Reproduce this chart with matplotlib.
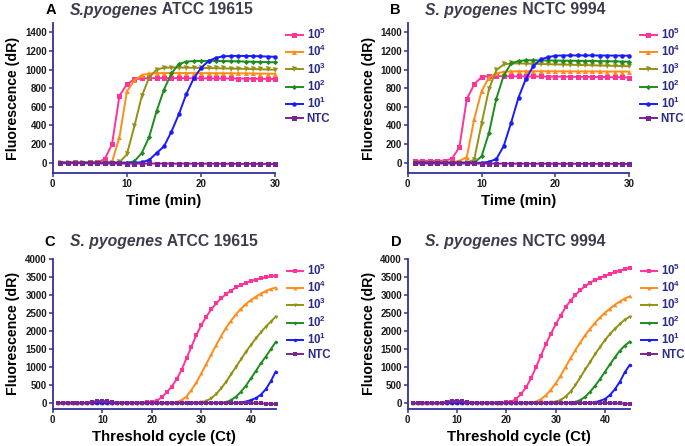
import matplotlib
matplotlib.use("Agg")
import matplotlib.pyplot as plt
import numpy as np

plt.rcParams['font.family'] = ['Liberation Sans', 'DejaVu Sans']
plt.rcParams['font.weight'] = 'bold'
plt.rcParams['mathtext.fontset'] = 'custom'
plt.rcParams['mathtext.rm'] = 'Liberation Sans:bold'
plt.rcParams['mathtext.bf'] = 'Liberation Sans:bold'
plt.rcParams['mathtext.it'] = 'Liberation Sans:bold:italic'

# ---------------- data ----------------
series_labels = [r'$\mathbf{10^5}$', r'$\mathbf{10^4}$', r'$\mathbf{10^3}$',
                 r'$\mathbf{10^2}$', r'$\mathbf{10^1}$', 'NTC']

time_min = np.arange(1, 31)
cycles = np.arange(1, 46)

# Panel A: S. pyogenes ATCC 19615, isothermal (time)
a_1e5 = [0, 2, 3, 2, 3, 5, 38, 200, 720, 842, 895, 905, 908, 908, 908, 908, 908, 907, 907, 906,
         906, 905, 905, 905, 904, 903, 902, 901, 900, 898]
a_1e4 = [0, 0, 0, 0, 0, 0, 0, 10, 275, 765, 885, 940, 958, 962, 963, 963, 963, 963, 962, 962,
         962, 961, 961, 961, 960, 959, 958, 957, 956, 955]
a_1e3 = [0, 0, 0, 0, 0, 0, 0, 0, 5, 90, 390, 714, 915, 1000, 1020, 1022, 1022, 1021, 1020, 1018,
         1016, 1015, 1013, 1011, 1009, 1007, 1005, 1003, 1001, 999]
a_1e2 = [0, 0, 0, 0, 0, 0, 0, 0, 0, 0, 15, 104, 276, 553, 786, 958, 1060, 1085, 1092, 1093,
         1093, 1092, 1091, 1090, 1088, 1086, 1084, 1082, 1080, 1078]
a_1e1 = [0, 0, 0, 0, 0, 0, 0, 0, 0, 0, 0, 5, 30, 104, 176, 334, 520, 736, 905, 1019,
         1091, 1127, 1142, 1146, 1147, 1146, 1145, 1143, 1140, 1137]
a_ntc = [-5, -6, -5, -6, -7, -7, -8, -8, -8, -9, -9, -9, -8, -9, -9, -10, -10, -9, -10, -10,
         -10, -11, -11, -11, -12, -12, -12, -12, -13, -13]

# Panel B: S. pyogenes NCTC 9994, isothermal (time)
b_1e5 = [20, 20, 20, 20, 22, 43, 169, 684, 840, 922, 930, 930, 928, 928, 927, 927, 926, 926, 925, 924,
         924, 923, 922, 922, 921, 920, 919, 918, 917, 915]
b_1e4 = [0, 0, 0, 0, 0, 5, 20, 61, 467, 768, 915, 958, 976, 980, 982, 982, 982, 982, 982, 981,
         981, 981, 980, 980, 980, 980, 979, 979, 979, 978]
b_1e3 = [0, 0, 0, 0, 0, 0, 0, 2, 32, 420, 790, 995, 1055, 1066, 1066, 1064, 1062, 1060, 1058, 1056,
         1054, 1052, 1050, 1048, 1046, 1044, 1042, 1040, 1038, 1036]
b_1e2 = [0, 0, 0, 0, 0, 0, 0, 0, 0, 68, 320, 689, 937, 1066, 1091, 1100, 1100, 1099, 1098, 1097,
         1096, 1095, 1094, 1093, 1092, 1090, 1089, 1088, 1086, 1085]
b_1e1 = [0, 0, 0, 0, 0, 0, 0, 0, 0, 0, 10, 40, 180, 430, 700, 900, 1037, 1109, 1134, 1149,
         1151, 1152, 1152, 1152, 1152, 1151, 1151, 1150, 1150, 1149]
b_ntc = [-8, -8, -8, -8, -8, -8, -8, -8, -8, -9, -9, -9, -9, -9, -10, -10, -10, -10, -10, -11,
         -11, -11, -11, -12, -12, -12, -12, -12, -13, -13]

# Panel C: S. pyogenes ATCC 19615, qPCR (cycles)
c_1e5 = [10, 10, 10, 10, 10, 10, 10, 10, 10, 10, 10, 10, 10, 10, 10, 10, 10, 12, 15, 25,
         60, 160, 296, 454, 657, 917, 1240, 1565, 1890, 2167, 2400, 2600, 2770, 2907, 3028, 3120, 3213, 3278, 3343, 3389,
         3426, 3460, 3490, 3515, 3540]
c_1e4 = [0, 0, 0, 0, 0, 0, 0, 0, 0, 0, 0, 0, 0, 0, 0, 0, 0, 0, 0, 0,
         0, 0, 2, 5, 20, 80, 176, 361, 574, 824, 1083, 1352, 1611, 1861, 2093, 2287, 2463, 2620, 2750, 2861,
         2954, 3037, 3111, 3167, 3204]
c_1e3 = [0, 0, 0, 0, 0, 0, 0, 0, 0, 0, 0, 0, 0, 0, 0, 0, 0, 0, 0, 0,
         0, 0, 0, 0, 0, 0, 0, 2, 8, 20, 55, 130, 250, 407, 593, 796, 1009, 1213, 1426, 1611,
         1796, 1963, 2120, 2259, 2398]
c_1e2 = [0, 0, 0, 0, 0, 0, 0, 0, 0, 0, 0, 0, 0, 0, 0, 0, 0, 0, 0, 0,
         0, 0, 0, 0, 0, 0, 0, 0, 0, 0, 0, 0, 2, 8, 20, 83, 176, 315, 481, 685,
         889, 1102, 1287, 1491, 1694]
c_1e1 = [-10, -10, -10, -10, -10, -10, -10, -10, -10, -10, -10, -10, -10, -10, -10, -10, -10, -10, -10, -10,
         -10, -10, -10, -10, -10, -10, -10, -10, -10, -10, -8, -6, -4, -2, 0, 2, 5, 10, 40, 80,
         135, 230, 380, 600, 870]
c_ntc = [-10, -10, -10, -10, -10, -8, 0, 30, 50, 55, 45, 20, 8, 5, 5, 5, 5, 5, 5, 5,
         5, 5, 5, 5, 5, 5, 5, 5, 5, 5, 0, 0, 0, 0, 0, 0, 0, 0, 0, -5,
         -10, -15, -20, -25, -30]

# Panel D: S. pyogenes NCTC 9994, qPCR (cycles)
d_1e5 = [5, 5, 5, 5, 5, 5, 5, 5, 5, 5, 5, 5, 5, 5, 5, 5, 5, 5, 8, 15,
         37, 111, 250, 435, 685, 990, 1315, 1630, 1917, 2185, 2426, 2657, 2843, 3000, 3139, 3250, 3343, 3417, 3481, 3537,
         3583, 3630, 3676, 3713, 3759]
d_1e4 = [0, 0, 0, 0, 0, 0, 0, 0, 0, 0, 0, 0, 0, 0, 0, 0, 0, 0, 0, 0,
         0, 0, 2, 5, 15, 37, 102, 213, 361, 546, 759, 1000, 1241, 1472, 1685, 1889, 2065, 2231, 2380, 2509,
         2620, 2730, 2820, 2900, 2960]
d_1e3 = [0, 0, 0, 0, 0, 0, 0, 0, 0, 0, 0, 0, 0, 0, 0, 0, 0, 0, 0, 0,
         0, 0, 0, 0, 0, 0, 2, 5, 15, 37, 83, 176, 315, 500, 713, 935, 1148, 1361, 1556, 1750,
         1917, 2065, 2194, 2315, 2398]
d_1e2 = [0, 0, 0, 0, 0, 0, 0, 0, 0, 0, 0, 0, 0, 0, 0, 0, 0, 0, 0, 0,
         0, 0, 0, 0, 0, 0, 0, 0, 0, 0, 0, 2, 10, 30, 80, 176, 315, 481, 667, 870,
         1074, 1268, 1454, 1593, 1704]
d_1e1 = [-10, -10, -10, -10, -10, -10, -10, -10, -10, -10, -10, -10, -10, -10, -10, -10, -10, -10, -10, -10,
         -10, -10, -10, -10, -10, -10, -10, -10, -10, -10, -8, -6, -4, -2, 0, 2, 5, 20, 60, 110,
         222, 380, 590, 850, 1055]
d_ntc = [-10, -10, -10, -10, -10, -8, 0, 35, 55, 60, 45, 20, 8, 5, 5, 5, 5, 5, 5, 5,
         5, 5, 5, 5, 5, 5, 5, 5, 5, 5, 0, 0, 0, 0, 0, 0, 0, 0, 0, -5,
         -8, -10, -14, -18, -20]

panels = [
    dict(letter='A', it='S.pyogenes', rest=' ATCC 19615', x=time_min,
         ys=[a_1e5, a_1e4, a_1e3, a_1e2, a_1e1, a_ntc], xlabel='Time (min)',
         xlim=(0, 30), xticks=[0, 10, 20, 30], ylim=(-110, 1500), yticks=range(0, 1401, 200)),
    dict(letter='B', it='S. pyogenes', rest=' NCTC 9994', x=time_min,
         ys=[b_1e5, b_1e4, b_1e3, b_1e2, b_1e1, b_ntc], xlabel='Time (min)',
         xlim=(0, 30), xticks=[0, 10, 20, 30], ylim=(-110, 1500), yticks=range(0, 1401, 200)),
    dict(letter='C', it='S. pyogenes', rest=' ATCC 19615', x=cycles,
         ys=[c_1e5, c_1e4, c_1e3, c_1e2, c_1e1, c_ntc], xlabel='Threshold cycle (Ct)',
         xlim=(0, 45), xticks=[0, 10, 20, 30, 40], ylim=(-160, 4000), yticks=range(0, 4001, 500)),
    dict(letter='D', it='S. pyogenes', rest=' NCTC 9994', x=cycles,
         ys=[d_1e5, d_1e4, d_1e3, d_1e2, d_1e1, d_ntc], xlabel='Threshold cycle (Ct)',
         xlim=(0, 45), xticks=[0, 10, 20, 30, 40], ylim=(-160, 4000), yticks=range(0, 4001, 500)),
]

colors = ['#FF3399', '#FF8C1A', '#929216', '#1E8C1E', '#1A1AFF', '#7B2392']
markers = ['s', '^', 'v', 'D', 'o', 's']
msize_scale = [1.0, 1.0, 1.0, 0.75, 0.9, 1.0]
spine_col = '#333399'
legend_col = '#2B2B8F'
title_col = '#3C3C4C'

W, H = 685, 446
fig = plt.figure(figsize=(W / 100, H / 100), dpi=100)

# axes boxes in pixels: left, right, top, bottom
boxes = [(52.7, 275.3, 23, 173), (407.7, 629.3, 23, 173),
         (52.7, 275.7, 259, 408.7), (407.7, 629.7, 259, 408.7)]
title_pos = [(50.7, 10, 70), (395, 10, 425), (50, 241.7, 70), (396, 241.7, 425)]

for i, (p, box) in enumerate(zip(panels, boxes)):
    l, r, t, b = box
    ax = fig.add_axes([l / W, 1 - b / H, (r - l) / W, (b - t) / H])
    top_row = i < 2
    ms = 3.6 if top_row else 2.7
    for y, c, m, lab, sc in zip(p['ys'], colors, markers, series_labels, msize_scale):
        ax.plot(p['x'], y, color=c, marker=m, markersize=ms * sc, linewidth=1.4,
                markeredgewidth=0, label=lab, clip_on=False)
    ax.set_xlim(*p['xlim'])
    ax.set_ylim(*p['ylim'])
    ax.set_xticks(p['xticks'])
    ax.set_yticks(list(p['yticks']))
    for s in ['top', 'right']:
        ax.spines[s].set_visible(False)
    for s in ['left', 'bottom']:
        ax.spines[s].set_color(spine_col)
        ax.spines[s].set_linewidth(1.3)
    ax.tick_params(axis='both', direction='out', length=3, width=1.1, color=spine_col,
                   labelsize=7, labelcolor='#1a1a1a', pad=1.2)
    for lbl in ax.get_xticklabels() + ax.get_yticklabels():
        lbl.set_fontweight('bold')
    ax.set_xlabel(p['xlabel'], fontsize=10.8, fontweight='bold', labelpad=4)
    ax.set_ylabel('Fluorescence (dR)', fontsize=10.2, fontweight='bold')
    ax.yaxis.set_label_coords(-0.145, 0.5)

    leg = ax.legend(loc='upper left', bbox_to_anchor=(1.05, 0.975), frameon=False,
                    fontsize=8.3, handlelength=1.4, handletextpad=0.35, labelspacing=0.18,
                    borderpad=0, borderaxespad=0)
    for txt in leg.get_texts():
        txt.set_color(legend_col)
        txt.set_fontweight('bold')

    lx, ly, tx = title_pos[i]
    fig.text(lx / W, 1 - ly / H, p['letter'], fontsize=10.5, fontweight='bold',
             color='black', ha='center', va='center')
    t1 = fig.text(tx / W, 1 - ly / H, p['it'], fontsize=11.3, fontweight='bold',
                  style='italic', color=title_col, ha='left', va='center')
    fig.canvas.draw()
    bb = t1.get_window_extent()
    fig.text(bb.x1 / W, 1 - ly / H, p['rest'], fontsize=11.3, fontweight='bold',
             color=title_col, ha='left', va='center')

fig.savefig('out.png', dpi=100)
